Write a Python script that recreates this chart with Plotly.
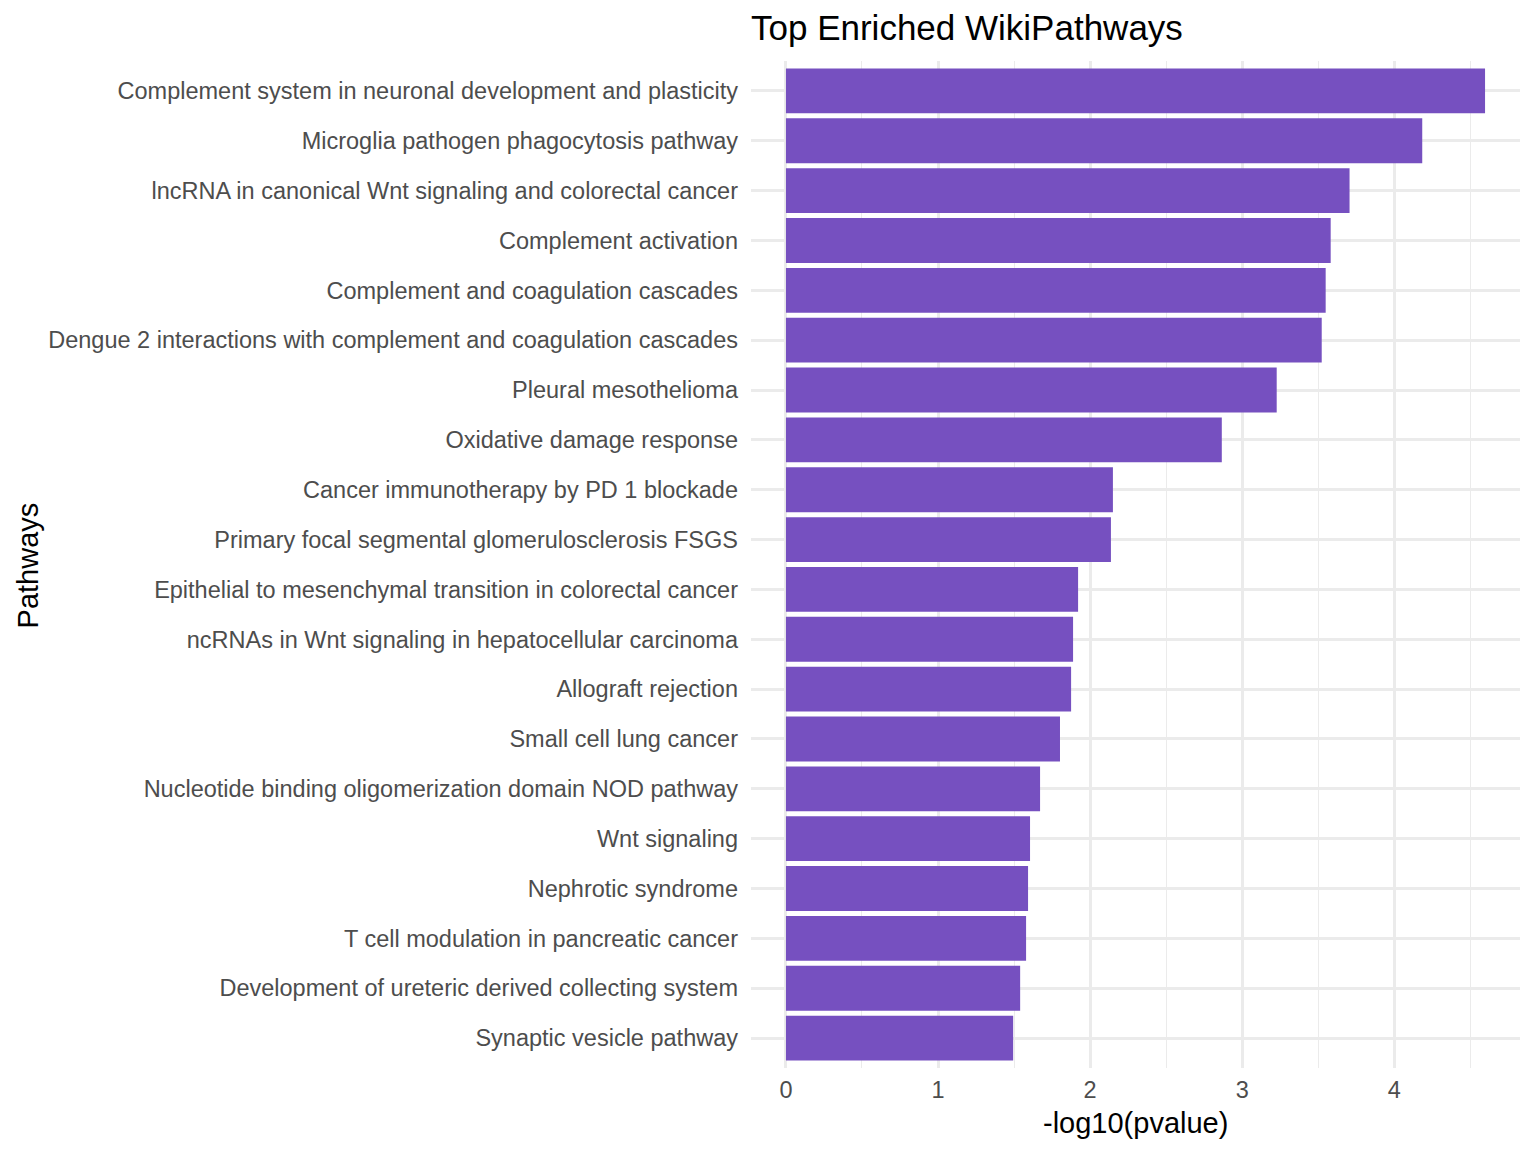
import plotly.graph_objects as go

# pathways, top of chart first
pathways = [
    "Complement system in neuronal development and plasticity",
    "Microglia pathogen phagocytosis pathway",
    "lncRNA in canonical Wnt signaling and colorectal cancer",
    "Complement activation",
    "Complement and coagulation cascades",
    "Dengue 2 interactions with complement and coagulation cascades",
    "Pleural mesothelioma",
    "Oxidative damage response",
    "Cancer immunotherapy by PD 1 blockade",
    "Primary focal segmental glomerulosclerosis FSGS",
    "Epithelial to mesenchymal transition in colorectal cancer",
    "ncRNAs in Wnt signaling in hepatocellular carcinoma",
    "Allograft rejection",
    "Small cell lung cancer",
    "Nucleotide binding oligomerization domain NOD pathway",
    "Wnt signaling",
    "Nephrotic syndrome",
    "T cell modulation in pancreatic cancer",
    "Development of ureteric derived collecting system",
    "Synaptic vesicle pathway",
]
neglog_p = [4.597, 4.184, 3.706, 3.582, 3.549, 3.523, 3.227, 2.866, 2.150, 2.137,
            1.921, 1.888, 1.875, 1.802, 1.671, 1.605, 1.592, 1.579, 1.540, 1.494]
x_ticks = [0, 1, 2, 3, 4]

FONT = "Liberation Sans, Arial, Helvetica, sans-serif"
BAR = "#7650C0"
GRID = "#EBEBEB"

W, H = 1536, 1152
L, R, T, B = 750.5, 15.5, 61, 84
pw, ph = W - L - R, H - T - B

xmax = max(neglog_p)
pad = 0.05 * xmax

fig = go.Figure()
fig.add_trace(go.Bar(
    x=neglog_p, y=pathways, orientation="h",
    marker=dict(color=BAR, line=dict(width=0)),
    width=0.9, hoverinfo="skip",
))

fig.update_layout(
    width=W, height=H,
    margin=dict(l=L, r=R, t=T, b=B, autoexpand=False),
    plot_bgcolor="white", paper_bgcolor="white",
    showlegend=False,
    font=dict(family=FONT, color="#4D4D4D", size=23.5),
    title=dict(text="Top Enriched WikiPathways", x=0, xref="paper", xanchor="left",
               y=1 - 28 / H, yref="container", yanchor="middle",
               font=dict(size=35, color="black", family=FONT)),
    bargap=0.1,
)
fig.update_xaxes(
    range=[-pad, xmax + pad], tickvals=x_ticks,
    showgrid=True, gridcolor=GRID, gridwidth=2.7,
    minor=dict(dtick=0.5, showgrid=True, gridcolor=GRID, gridwidth=1.4),
    zeroline=False, showline=False, ticks="", ticklabelstandoff=5,
    tickfont=dict(size=23.5, color="#4D4D4D"),
)
fig.update_yaxes(
    categoryorder="array", categoryarray=pathways[::-1],
    range=[-0.6, len(pathways) - 0.4],
    showgrid=True, gridcolor=GRID, gridwidth=2.7,
    zeroline=False, showline=False, ticks="", ticklabelstandoff=12,
    tickfont=dict(size=23.5, color="#4D4D4D"),
)

fig.add_annotation(text="-log10(pvalue)", xref="paper", yref="paper",
                   x=0.5, y=-(1123 - (T + ph)) / ph, xanchor="center", yanchor="middle",
                   showarrow=False, font=dict(size=29, color="black", family=FONT))
fig.add_annotation(text="Pathways", xref="paper", yref="paper",
                   x=(27 - L) / pw, y=1 - (565 - T) / ph, xanchor="center", yanchor="middle",
                   textangle=-90, showarrow=False,
                   font=dict(size=29, color="black", family=FONT))

# page body has a default 8px margin; drop it so the figure sits at the window corner
fig.write_html("out.html", config={"displayModeBar": False},
               post_script="document.body.style.margin='0';document.body.style.overflow='hidden';")
